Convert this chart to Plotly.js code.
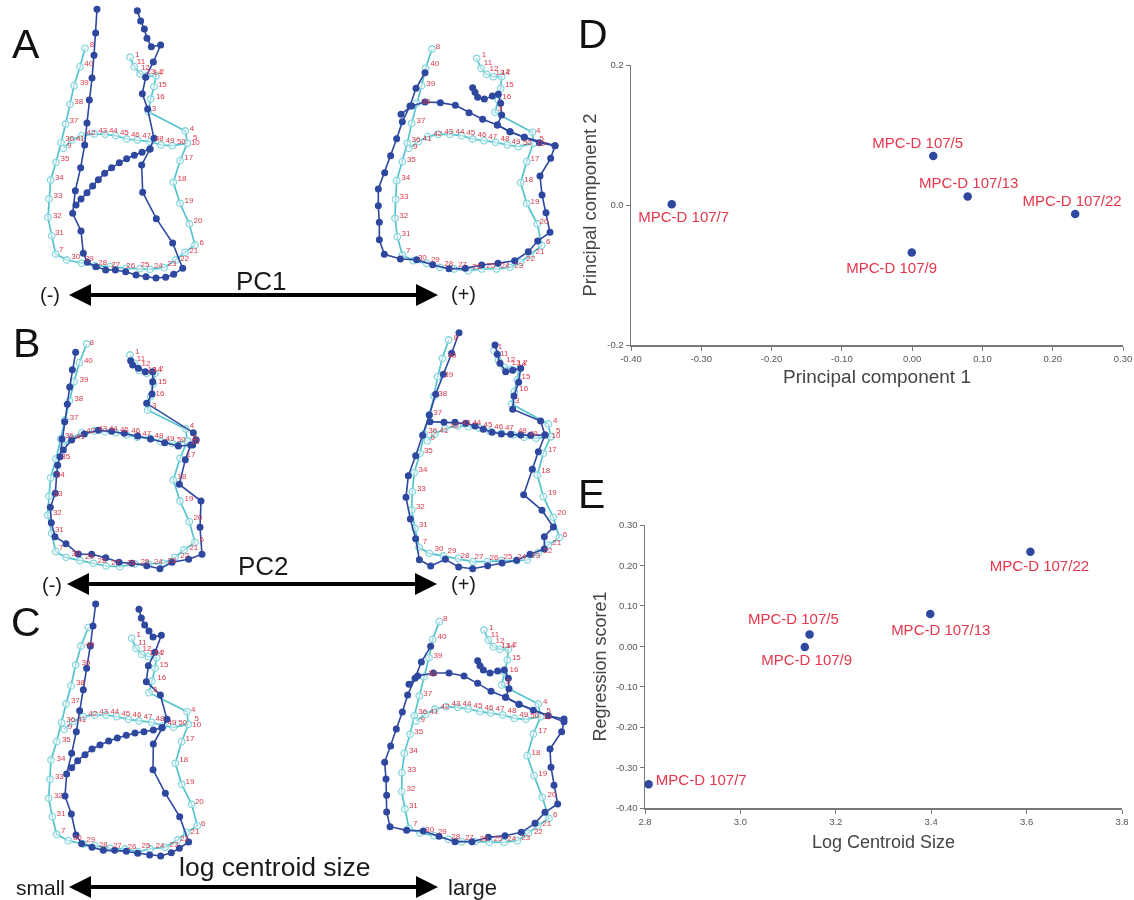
<!DOCTYPE html>
<html><head><meta charset="utf-8">
<script src="https://cdn.plot.ly/plotly-3.0.1.min.js"></script>
<style>html,body{margin:0;padding:0;background:#fff}#plot{width:1134px;height:900px;filter:blur(0.35px)}</style>
</head><body><div id="plot"></div>
<script>
// Landmark positions: units are the shape's own digitised coordinates in each panel
const a1CyanOuter=[[255,145],[240,200],[222,257],[210,313],[197,372],[183,428],[168,487],[152,540],[147,597],[144,652],[155,707],[167,762],[200,780],[245,790],[285,797],[330,800],[378,805],[420,806],[450,808],[492,803],[527,780],[555,757],[585,735],[568,672],[540,610],[520,547],[540,482],[562,430],[556,393],[445,335],[452,297],[462,260],[468,228],[440,228],[420,222],[403,200],[390,172]];
const a1CyanInner=[[190,445],[215,420],[245,407],[283,402],[315,403],[347,407],[380,417],[412,420],[450,425],[483,435],[517,437],[562,430]];
const a1DarkOuter=[[291,28],[287,99],[282,166],[276,234],[268,300],[261,369],[254,435],[242,503],[226,572],[218,640],[243,693],[250,760],[262,787],[288,800],[317,810],[346,810],[377,815],[408,825],[438,830],[468,834],[497,832],[521,823],[548,805],[518,729],[469,656],[428,577],[425,495],[450,447],[462,415],[443,327],[427,281],[437,232],[460,186],[482,135],[454,140],[441,115],[433,87],[422,63],[412,32]];
const a1DarkInner=[[228,615],[243,597],[261,578],[278,558],[295,539],[314,520],[335,503],[358,488],[380,476],[403,466],[426,457],[450,447]];
const a1Labels=[['8',276,136],['40',266,192],['39',253,249],['38',236,306],['37',222,362],['36',209,417],['9',208,438],['41',241,417],['42',273,400],['43',308,393],['44',340,392],['45',373,398],['46',406,404],['47',440,409],['48',478,416],['49',510,424],['50',544,427],['5',586,413],['10',586,430],['4',576,387],['17',566,474],['18',546,538],['19',567,603],['20',594,664],['6',605,729],['21',581,754],['22',554,776],['23',516,793],['24',475,797],['25',435,795],['26',392,797],['27',347,794],['28',308,790],['29',268,777],['30',227,771],['7',184,750],['31',178,699],['32',172,647],['33',174,589],['34',178,533],['35',195,477],['3',462,327],['16',481,290],['15',487,254],['2',486,217],['14',474,218],['13',452,216],['12',436,203],['11',423,187],['1',412,165]];

const a2CyanOuter=[[456,87],[437,145],[425,197],[410,250],[395,310],[382,370],[367,425],[350,482],[347,538],[345,595],[352,650],[367,705],[400,722],[440,730],[480,742],[522,747],[565,752],[605,747],[650,747],[690,742],[722,727],[750,705],[785,676],[772,612],[740,550],[722,488],[740,425],[760,370],[757,337],[645,277],[655,240],[662,205],[665,170],[640,170],[620,163],[603,145],[590,115]];
const a2CyanInner=[[387,385],[415,365],[443,350],[475,343],[510,343],[545,347],[578,357],[612,362],[647,367],[682,375],[715,380],[760,370]];
const a2DarkOuter=[[435,158],[408,205],[390,258],[367,305],[350,356],[332,407],[314,458],[295,507],[295,557],[298,607],[298,659],[313,703],[361,717],[410,719],[458,734],[507,746],[556,745],[605,735],[654,730],[704,722],[745,695],[773,663],[810,637],[798,578],[786,525],[780,468],[812,415],[825,377],[733,352],[690,335],[652,315],[665,285],[662,250],[655,223],[637,228],[613,237],[593,232],[585,217],[578,203]];
const a2DarkInner=[[363,283],[395,258],[435,246],[481,248],[526,256],[567,278],[608,298],[652,315],[690,335],[733,352],[778,368],[825,377]];
const a2Labels=[['8',474,80],['40',464,133],['39',452,192],['38',437,245],['37',423,302],['36',408,360],['9',406,382],['41',441,358],['42',473,343],['43',506,335],['44',540,337],['45',572,340],['46',606,346],['47',638,350],['48',675,358],['49',708,367],['50',742,369],['5',785,356],['10',782,373],['4',775,332],['17',765,417],['18',746,481],['19',765,545],['20',792,606],['6',805,667],['21',780,695],['22',752,718],['23',716,738],['24',675,738],['25',632,738],['26',590,740],['27',547,736],['28',506,731],['29',466,720],['30',427,713],['7',385,694],['31',378,642],['32',371,589],['33',372,532],['34',377,475],['35',394,420],['3',661,268],['16',680,232],['15',688,196],['2',684,157],['14',676,158],['13',660,158],['12',642,146],['11',624,130],['1',612,105]];

const b1CyanOuter=[[260,102],[238,158],[222,215],[208,272],[195,330],[182,387],[168,447],[152,503],[147,558],[143,615],[155,670],[167,725],[198,742],[240,752],[280,760],[318,768],[360,770],[405,762],[445,762],[490,760],[525,742],[552,720],[585,697],[568,635],[540,573],[520,510],[540,445],[562,393],[557,357],[443,300],[452,260],[460,222],[465,190],[440,190],[418,182],[403,160],[390,135]];
const b1CyanInner=[[190,405],[215,385],[245,368],[283,363],[315,365],[347,368],[380,375],[412,382],[450,385],[483,395],[517,400],[562,393]];
const b1DarkOuter=[[227,127],[217,179],[209,231],[202,283],[194,335],[186,387],[180,440],[173,466],[170,493],[166,550],[151,592],[154,638],[165,680],[198,701],[235,732],[275,733],[317,743],[357,757],[396,760],[440,767],[480,776],[516,757],[566,748],[606,733],[600,652],[603,573],[538,523],[556,449],[572,405],[588,390],[580,368],[440,280],[456,252],[458,215],[458,185],[436,185],[415,175],[398,165],[392,152]];
const b1DarkInner=[[190,420],[215,390],[253,372],[295,361],[335,364],[373,370],[413,378],[452,387],[494,398],[535,408],[578,405],[588,390]];
const b1Labels=[['8',275,99],['40',265,153],['39',252,210],['38',236,267],['37',222,323],['36',208,378],['41',241,380],['42',272,364],['43',308,356],['44',340,356],['45',373,360],['46',407,364],['47',440,371],['48',477,378],['49',510,386],['50',544,389],['5',585,385],['10',585,397],['4',576,348],['17',573,436],['18',546,500],['19',567,567],['20',594,625],['6',605,690],['21',581,715],['22',554,737],['23',516,752],['24',475,757],['25',435,757],['26',394,760],['27',347,758],['28',306,754],['29',268,742],['30',227,733],['7',184,713],['31',178,660],['32',172,608],['33',174,552],['34',181,495],['35',197,440],['3',463,288],['16',480,253],['15',487,215],['2',484,177],['14',472,180],['13',456,180],['12',438,163],['11',423,148],['1',412,125]];

const b2CyanOuter=[[506,90],[487,145],[473,200],[462,258],[448,315],[432,372],[420,430],[403,488],[397,545],[395,600],[405,655],[417,712],[448,730],[490,738],[535,745],[578,755],[622,755],[665,752],[710,752],[742,750],[775,728],[805,705],[838,683],[820,622],[790,560],[772,495],[790,430],[812,380],[805,342],[695,282],[703,245],[712,210],[718,178],[693,178],[672,172],[655,150],[642,122]];
const b2CyanInner=[[442,392],[465,372],[495,355],[533,348],[565,350],[597,354],[630,364],[665,370],[700,375],[733,382],[768,385],[812,380]];
const b2DarkOuter=[[537,68],[515,130],[490,193],[467,253],[448,315],[428,376],[407,437],[385,497],[378,562],[391,627],[407,686],[418,749],[452,768],[496,748],[536,771],[578,776],[623,767],[666,759],[710,751],[750,733],[793,717],[793,680],[820,651],[786,601],[731,554],[757,478],[775,425],[795,375],[782,333],[698,298],[702,258],[716,217],[722,175],[698,181],[677,185],[660,160],[652,133],[645,105]];
const b2DarkInner=[[450,335],[492,337],[525,337],[557,340],[585,348],[610,358],[636,367],[664,372],[692,373],[722,375],[752,376],[795,375]];
const b2Labels=[['8',527,85],['40',516,138],['39',506,195],['38',488,252],['37',473,308],['36',458,363],['9',458,385],['41',491,363],['42',524,348],['43',558,340],['44',590,340],['45',624,345],['46',656,351],['47',688,355],['48',727,362],['49',760,372],['5',835,363],['10',828,377],['4',826,333],['17',817,420],['18',797,484],['19',817,549],['20',845,610],['6',855,675],['21',830,700],['22',803,724],['23',767,738],['24',725,741],['25',684,741],['26',642,744],['27',597,741],['28',555,737],['29',516,723],['30',477,717],['7',435,695],['31',430,646],['32',421,592],['33',424,536],['34',429,479],['35',445,424],['3',712,273],['16',731,237],['15',738,200],['2',736,160],['14',725,162],['13',708,160],['12',692,150],['11',673,132],['1',660,110]];

const c1CyanOuter=[[265,97],[243,153],[227,210],[213,272],[198,327],[185,383],[170,440],[153,495],[150,553],[146,610],[157,665],[170,718],[205,737],[250,747],[285,752],[330,760],[375,762],[415,770],[450,762],[495,757],[533,735],[560,712],[592,692],[575,628],[545,568],[526,505],[545,440],[565,388],[561,350],[447,293],[456,258],[465,220],[470,188],[445,185],[425,178],[408,160],[395,130]];
const c1CyanInner=[[192,403],[218,380],[250,365],[285,360],[318,360],[350,365],[385,373],[417,378],[455,382],[490,392],[520,397],[565,388]];
const c1DarkOuter=[[287,27],[279,93],[271,153],[260,220],[250,284],[239,347],[229,410],[215,475],[200,537],[195,603],[214,657],[228,720],[245,746],[276,757],[310,766],[344,766],[379,769],[413,775],[449,780],[482,783],[514,773],[538,760],[566,741],[539,665],[496,595],[459,524],[460,447],[486,398],[501,373],[481,300],[439,260],[445,212],[465,172],[484,121],[459,126],[447,108],[434,90],[424,69],[417,43]];
const c1DarkInner=[[215,518],[233,497],[255,479],[276,462],[300,450],[326,438],[352,429],[379,421],[405,414],[432,410],[460,405],[486,398]];
const c1Labels=[['40',270,150],['39',258,205],['38',241,263],['37',226,319],['36',212,376],['9',210,396],['41',245,375],['42',278,358],['43',311,351],['44',344,351],['45',377,357],['46',411,360],['47',444,367],['48',480,373],['49',516,383],['50',548,385],['5',590,372],['10',590,390],['4',580,345],['17',570,431],['18',551,496],['19',570,561],['20',598,622],['6',610,686],['21',585,710],['22',553,733],['23',522,749],['24',480,754],['25',438,754],['26',396,756],['27',352,754],['28',310,749],['29',272,736],['30',232,730],['7',190,708],['31',183,657],['32',175,604],['33',178,547],['34',183,491],['35',199,435],['3',465,285],['16',485,250],['15',492,211],['2',487,175],['14',476,175],['13',461,175],['12',441,162],['11',427,144],['1',416,121]];

const c2CyanOuter=[[478,80],[458,133],[447,188],[432,245],[418,303],[403,362],[390,418],[373,475],[366,533],[365,590],[375,642],[387,700],[420,714],[462,722],[505,733],[545,740],[585,740],[628,742],[672,742],[712,737],[745,715],[773,692],[807,670],[787,607],[762,542],[742,482],[760,417],[782,365],[775,327],[665,270],[673,232],[682,195],[685,163],[660,163],[640,155],[625,135],[612,105]];
const c2CyanInner=[[408,378],[437,358],[465,342],[498,335],[533,337],[565,342],[600,350],[632,354],[668,360],[703,370],[738,373],[782,365]];
const c2DarkOuter=[[452,154],[424,201],[405,250],[383,300],[367,351],[349,402],[332,453],[314,502],[318,552],[320,601],[320,651],[330,695],[380,706],[430,708],[477,724],[525,740],[576,740],[625,727],[675,722],[724,712],[765,685],[795,652],[833,627],[822,571],[813,517],[810,462],[845,410],[852,380],[717,328],[677,307],[687,281],[685,250],[673,225],[653,228],[630,234],[610,225],[600,212],[593,197]];
const c2DarkInner=[[387,268],[413,243],[460,234],[507,234],[552,243],[593,265],[633,289],[677,307],[717,328],[760,346],[805,362],[852,372]];
const c2Labels=[['8',496,72],['40',486,126],['39',474,183],['38',458,238],['37',443,297],['36',428,352],['9',428,375],['41',462,350],['42',495,336],['43',528,327],['44',561,328],['45',594,332],['46',627,339],['47',660,343],['48',696,349],['49',731,359],['50',764,362],['5',806,348],['10',802,365],['4',796,322],['17',788,407],['18',768,473],['19',788,538],['20',816,600],['6',826,661],['21',800,686],['22',775,710],['23',737,728],['24',695,732],['25',654,732],['26',612,732],['27',568,729],['28',527,725],['29',487,712],['30',449,705],['7',406,686],['31',400,632],['32',393,581],['33',395,525],['34',400,467],['35',416,412],['3',684,262],['16',702,225],['15',709,188],['2',704,150],['14',692,152],['13',677,152],['12',660,137],['11',645,120],['1',634,100]];

// Scatter panels
const specimens=['MPC-D 107/7','MPC-D 107/5','MPC-D 107/13','MPC-D 107/22','MPC-D 107/9'];
const pc1=[-0.342,0.030,0.079,0.232,-0.0005];
const pc2=[0.001,0.070,0.012,-0.013,-0.068];
const pc1LabelX=[-0.325,0.0079,0.0804,0.2275,-0.0292];
const pc2LabelY=[-0.0185,0.0861,0.029,0.0033,-0.0913];
const logCS=[2.8075,3.145,3.398,3.608,3.135];
const regScore=[-0.341,0.029,0.080,0.234,-0.002];
const logCSLabelX=[2.918,3.111,3.42,3.627,3.139];
const regLabelY=[-0.3347,0.0651,0.0379,0.1954,-0.0371];
const dXTicks=[-0.4,-0.3,-0.2,-0.1,0,0.1,0.2,0.3];
const dXTickText=['-0.40','-0.30','-0.20','-0.10','0.00','0.10','0.20','0.30'];
const dYTicks=[-0.2,0,0.2];
const dYTickText=['-0.2','0.0','0.2'];
const eXTicks=[2.8,3.0,3.2,3.4,3.6,3.8];
const eXTickText=['2.8','3.0','3.2','3.4','3.6','3.8'];
const eYTicks=[-0.4,-0.3,-0.2,-0.1,0,0.1,0.2,0.3];
const eYTickText=['-0.40','-0.30','-0.20','-0.10','0.00','0.10','0.20','0.30'];

const FONT='"Liberation Sans", Arial, sans-serif';
const DARK='#2e479f', CYAN='#55c3ce', CYANM='#86d6dd', RED='#e6364a', LBL='#d93a4c';

const panels=[
 {box:[0,0,280,310],co:a1CyanOuter,ci:a1CyanInner,dko:a1DarkOuter,dki:a1DarkInner,lb:a1Labels},
 {box:[280,20,300,300],co:a2CyanOuter,ci:a2CyanInner,dko:a2DarkOuter,dki:a2DarkInner,lb:a2Labels},
 {box:[0,310,280,290],co:b1CyanOuter,ci:b1CyanInner,dko:b1DarkOuter,dki:b1DarkInner,lb:b1Labels},
 {box:[280,310,300,290],co:b2CyanOuter,ci:b2CyanInner,dko:b2DarkOuter,dki:b2DarkInner,lb:b2Labels},
 {box:[0,595,280,305],co:c1CyanOuter,ci:c1CyanInner,dko:c1DarkOuter,dki:c1DarkInner,lb:c1Labels},
 {box:[280,595,300,305],co:c2CyanOuter,ci:c2CyanInner,dko:c2DarkOuter,dki:c2DarkInner,lb:c2Labels}
];
const W=1134,H=900;
const traces=[];
const layout={width:W,height:H,margin:{l:0,r:0,t:0,b:0},showlegend:false,paper_bgcolor:'#fff',plot_bgcolor:'rgba(0,0,0,0)',hovermode:false,font:{family:FONT},shapes:[],annotations:[]};

panels.forEach((p,i)=>{
  const n=i+1, s=n===1?'':String(n);
  const [ox,oy,w,h]=p.box;
  layout['xaxis'+s]={domain:[ox/W,(ox+w)/W],range:[0,w*3],visible:false,fixedrange:true,anchor:'y'+s};
  layout['yaxis'+s]={domain:[1-(oy+h)/H,1-oy/H],range:[h*3,0],visible:false,fixedrange:true,anchor:'x'+s};
  const ax={xaxis:'x'+s,yaxis:'y'+s,cliponaxis:false,showlegend:false};
  [p.co,p.ci].forEach(pts=>traces.push({...ax,type:'scatter',mode:'lines+markers',x:pts.map(q=>q[0]),y:pts.map(q=>q[1]),
    line:{color:CYAN,width:1.7},marker:{size:6.5,color:'rgba(255,255,255,0.5)',line:{color:CYANM,width:1.3}}}));
  [p.dko,p.dki].forEach(pts=>traces.push({...ax,type:'scatter',mode:'lines+markers',x:pts.map(q=>q[0]),y:pts.map(q=>q[1]),
    line:{color:DARK,width:1.6},marker:{size:7,color:DARK}}));
  traces.push({...ax,type:'scatter',mode:'text',x:p.lb.map(q=>q[1]),y:p.lb.map(q=>q[2]),text:p.lb.map(q=>q[0]),
    textposition:'middle center',textfont:{family:FONT,size:8,color:LBL}});
});

// Scatter D and E
const spine={showline:true,linecolor:'#777',linewidth:1.5,ticks:'outside',ticklen:4,tickwidth:1,tickcolor:'#777',showgrid:false,zeroline:false,fixedrange:true,tickmode:'array',tickfont:{family:FONT,size:9.5,color:'#555'}};
layout.xaxis7={...spine,domain:[631/W,1123/W],range:[-0.4,0.3],anchor:'y7',tickvals:dXTicks,ticktext:dXTickText,
  title:{text:'Principal component 1',font:{family:FONT,size:19,color:'#444'},standoff:7}};
layout.yaxis7={...spine,domain:[1-345/H,1-65/H],range:[-0.2,0.2],anchor:'x7',tickvals:dYTicks,ticktext:dYTickText,
  title:{text:'Principal component 2',font:{family:FONT,size:18.5,color:'#444'},standoff:5}};
layout.xaxis8={...spine,domain:[645/W,1122/W],range:[2.8,3.8],anchor:'y8',tickvals:eXTicks,ticktext:eXTickText,
  title:{text:'Log Centroid Size',font:{family:FONT,size:18,color:'#444'},standoff:9}};
layout.yaxis8={...spine,domain:[1-808/H,1-525/H],range:[-0.4,0.3],anchor:'x8',tickvals:eYTicks,ticktext:eYTickText,
  title:{text:'Regression score1',font:{family:FONT,size:18,color:'#444'},standoff:4}};
[['x7','y7',pc1,pc2,pc1LabelX,pc2LabelY],['x8','y8',logCS,regScore,logCSLabelX,regLabelY]].forEach(a=>{
  traces.push({xaxis:a[0],yaxis:a[1],type:'scatter',mode:'markers',x:a[2],y:a[3],cliponaxis:false,marker:{size:8.5,color:DARK}});
  traces.push({xaxis:a[0],yaxis:a[1],type:'scatter',mode:'text',x:a[4],y:a[5],text:specimens,cliponaxis:false,textposition:'middle center',textfont:{family:FONT,size:15,color:RED}});
});

// Overlay axes in page pixels for panel letters, arrows and their captions
const arrowY=[295,584,887];
const arrowLeftTip=[69,67,69];
const arrowRightTip=[438,437,438];
const headLen=22, headHalf=11;
const letters=[['A',26,44],['B',26,343],['C',26,622],['D',593,34],['E',591,494]];
const captions=[['PC1',261,281,26],['PC2',263,566,26],['log centroid size',275,867,26.5],
  ['(-)',50,295,20],['(+)',463,294,20],['(-)',52,585,20],['(+)',463,584,20],['small',40,887,21],['large',472,887,22]];
layout.xaxis9={domain:[0,1],range:[0,W],visible:false,fixedrange:true,anchor:'y9'};
layout.yaxis9={domain:[0,1],range:[H,0],visible:false,fixedrange:true,anchor:'x9'};
traces.push({xaxis:'x9',yaxis:'y9',type:'scatter',mode:'none',x:[0,W],y:[0,H]});
arrowY.forEach((y,i)=>{
  const l=arrowLeftTip[i], r=arrowRightTip[i];
  const sh={type:'path',xref:'x9',yref:'y9',layer:'above',line:{width:0},fillcolor:'#000'};
  layout.shapes.push({...sh,path:`M${l+headLen-1},${y-2}L${r-headLen+1},${y-2}L${r-headLen+1},${y+2}L${l+headLen-1},${y+2}Z`});
  layout.shapes.push({...sh,path:`M${l},${y}L${l+headLen},${y-headHalf}L${l+headLen},${y+headHalf}Z`});
  layout.shapes.push({...sh,path:`M${r},${y}L${r-headLen},${y-headHalf}L${r-headLen},${y+headHalf}Z`});
});
letters.forEach(t=>layout.annotations.push({xref:'x9',yref:'y9',x:t[1],y:t[2],text:t[0],showarrow:false,xanchor:'center',yanchor:'middle',font:{family:FONT,size:41,color:'#111'}}));
captions.forEach(t=>layout.annotations.push({xref:'x9',yref:'y9',x:t[1],y:t[2],text:t[0],showarrow:false,xanchor:'center',yanchor:'middle',font:{family:FONT,size:t[3],color:'#1a1a1a'}}));

Plotly.newPlot('plot',traces,layout,{displayModeBar:false,staticPlot:true});
</script></body></html>
